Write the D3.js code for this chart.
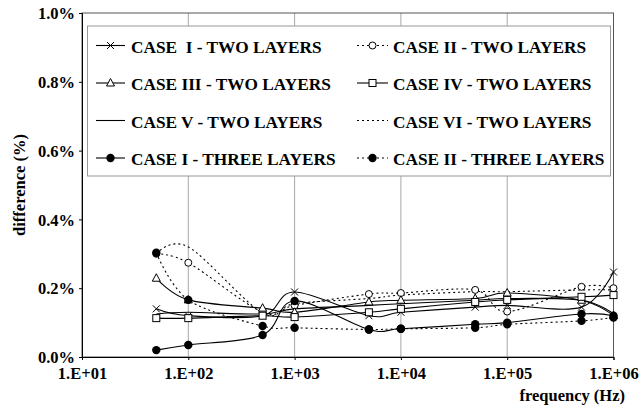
<!DOCTYPE html>
<html><head><meta charset="utf-8">
<script src="https://cdn.jsdelivr.net/npm/d3@7"></script>
<style>
body{margin:0;background:#fff;}
text{font-family:"Liberation Serif","Times New Roman",serif;font-weight:bold;fill:#000;}
</style></head>
<body><svg id="c" width="641" height="409"></svg>
<script>
const freqs = [50,100,500,1000,5000,10000,50000,100000,500000,1000000];
const xTickValues = [1e1,1e2,1e3,1e4,1e5,1e6];
const xTickLabels = ["1.E+01","1.E+02","1.E+03","1.E+04","1.E+05","1.E+06"];
const yTickValues = [0,0.2,0.4,0.6,0.8,1.0];
const caseI2   = [0.140,0.120,0.120,0.189,0.120,0.130,0.145,0.150,0.145,0.247];
const caseII2  = [0.300,0.274,0.130,0.150,0.183,0.186,0.195,0.132,0.204,0.200];
const caseIII2 = [0.229,0.166,0.142,0.130,0.160,0.165,0.170,0.186,0.165,0.120];
const caseIV2  = [0.113,0.113,0.120,0.116,0.130,0.140,0.160,0.166,0.175,0.180];
const caseV2   = [0.125,0.130,0.125,0.140,0.150,0.155,0.165,0.170,0.165,0.125];
const caseVI2  = [0.300,0.320,0.128,0.155,0.170,0.180,0.190,0.190,0.195,0.195];
const caseI3   = [0.020,0.035,0.064,0.163,0.080,0.082,0.095,0.100,0.125,0.120];
const caseII3  = [0.303,0.166,0.090,0.085,0.080,0.082,0.085,0.095,0.105,0.115];

const series = [
  {name:"CASE  I - TWO LAYERS", vals:caseI2, dash:null, marker:"x"},
  {name:"CASE II - TWO LAYERS", vals:caseII2, dash:"2,3", marker:"circleOpen"},
  {name:"CASE III - TWO LAYERS", vals:caseIII2, dash:null, marker:"triangle"},
  {name:"CASE IV - TWO LAYERS", vals:caseIV2, dash:null, marker:"square"},
  {name:"CASE V - TWO LAYERS", vals:caseV2, dash:null, marker:null},
  {name:"CASE VI - TWO LAYERS", vals:caseVI2, dash:"2,3", marker:null},
  {name:"CASE I - THREE LAYERS", vals:caseI3, dash:null, marker:"dot"},
  {name:"CASE II - THREE LAYERS", vals:caseII3, dash:"2,3", marker:"dot"}
];

const svg = d3.select("#c");
const L=82, R=613.5, T=13, B=357;
const x = d3.scaleLog().domain([10,1e6]).range([L,R]);
const y = d3.scaleLinear().domain([0,1.0]).range([B,T]);

// gridlines
svg.append("g").selectAll("line").data(xTickValues.slice(1,-1)).join("line")
  .attr("x1",d=>x(d)).attr("x2",d=>x(d)).attr("y1",T).attr("y2",B)
  .attr("stroke","#a8a8a8").attr("stroke-width",1);

// frame
svg.append("rect").attr("x",L).attr("y",T).attr("width",R-L).attr("height",B-T)
  .attr("fill","none").attr("stroke","#555").attr("stroke-width",1);

// axes
const yAxis = d3.axisLeft(y).tickValues(yTickValues).tickSize(3).tickFormat(d=>d3.format(".1f")(d)+"%");
const gy = svg.append("g").attr("transform",`translate(${L},0)`).call(yAxis);
gy.select(".domain").attr("stroke","#000");
gy.selectAll("text").attr("x",-7).attr("dy","0.35em").style("font-size","16.5px");
gy.selectAll("line").attr("stroke","#000");

const xAxis = d3.axisBottom(x).tickValues(xTickValues).tickSize(3).tickFormat((d,i)=>xTickLabels[i]);
const gx = svg.append("g").attr("transform",`translate(0,${B})`).call(xAxis);
gx.select(".domain").attr("stroke","#000");
gx.selectAll("text").attr("y",10).style("font-size","16.5px");
gx.selectAll("line").attr("stroke","#000");

svg.append("text").attr("x",625).attr("y",401).attr("text-anchor","end")
  .style("font-size","16.5px").text("frequency (Hz)");
svg.append("text").attr("transform","translate(25,185) rotate(-90)").attr("text-anchor","middle")
  .style("font-size","16.5px").text("difference (%)");

// legend
const lg = svg.append("g");
lg.append("rect").attr("x",87.5).attr("y",26).attr("width",523).attr("height",150)
  .attr("fill","#fff").attr("stroke","#999").attr("stroke-width",1);

function drawMarker(g, type, cx, cy){
  if(type==="x"){
    g.append("path").attr("d",`M${cx-3.5},${cy-3.5}L${cx+3.5},${cy+3.5}M${cx-3.5},${cy+3.5}L${cx+3.5},${cy-3.5}`)
      .attr("stroke","#000").attr("stroke-width",1).attr("fill","none");
  } else if(type==="circleOpen"){
    g.append("circle").attr("cx",cx).attr("cy",cy).attr("r",3.5).attr("fill","#fff").attr("stroke","#000").attr("stroke-width",1);
  } else if(type==="triangle"){
    g.append("path").attr("d",`M${cx},${cy-4.5}L${cx+4},${cy+3}L${cx-4},${cy+3}Z`)
      .attr("fill","#fff").attr("stroke","#000").attr("stroke-width",1);
  } else if(type==="square"){
    g.append("rect").attr("x",cx-3.5).attr("y",cy-3.5).attr("width",7).attr("height",7)
      .attr("fill","#fff").attr("stroke","#000").attr("stroke-width",1);
  } else if(type==="dot"){
    g.append("circle").attr("cx",cx).attr("cy",cy).attr("r",4.2).attr("fill","#000");
  }
}

// data lines
const line = d3.line().x((d,i)=>x(freqs[i])).y(d=>y(d)).curve(d3.curveCardinal.tension(0));
const dg = svg.append("g");
series.forEach(s=>{
  dg.append("path").attr("d",line(s.vals)).attr("fill","none").attr("stroke","#000")
    .attr("stroke-width",1.1).attr("stroke-dasharray",s.dash);
});
series.forEach(s=>{
  if(!s.marker) return;
  const g = dg.append("g");
  s.vals.forEach((v,i)=>drawMarker(g,s.marker,x(freqs[i]),y(v)));
});

// legend entries
const rowY = [45.5,83,120.5,158];
series.forEach((s,i)=>{
  const col = i%2, row = Math.floor(i/2);
  const x0 = col===0 ? 96 : 357, x1 = col===0 ? 125 : 388;
  const cy = rowY[row];
  lg.append("line").attr("x1",x0).attr("x2",x1).attr("y1",cy).attr("y2",cy)
    .attr("stroke","#000").attr("stroke-width",1.1).attr("stroke-dasharray",s.dash);
  if(s.marker) drawMarker(lg,s.marker,(x0+x1)/2,cy);
  lg.append("text").attr("x",col===0?131:393).attr("y",cy+7)
    .style("font-size","17.3px").style("white-space","pre").text(s.name);
});
</script></body></html>
